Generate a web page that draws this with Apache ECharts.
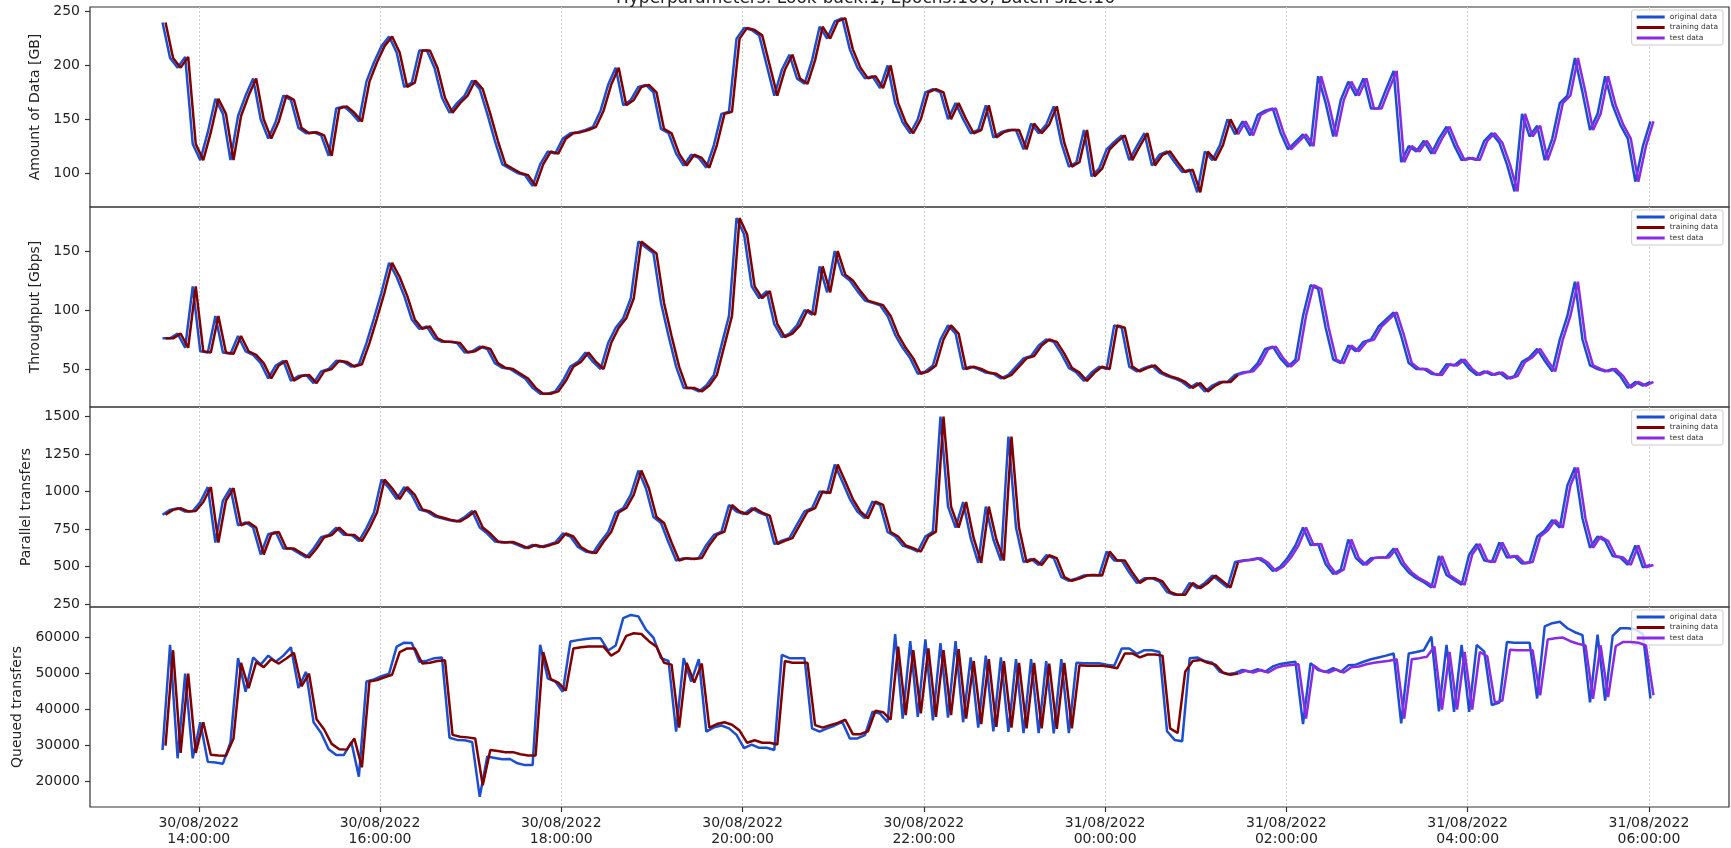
<!DOCTYPE html>
<html>
<head>
<meta charset="utf-8">
<title>Hyperparameters: Look-back:1, Epochs:100, Batch size:16</title>
<script src="https://cdn.jsdelivr.net/npm/echarts@6/dist/echarts.min.js"></script>
<style>
  html, body { margin: 0; padding: 0; background: #fff; }
  #chart { width: 1731px; height: 848px; }
</style>
</head>
<body>
<div id="chart"></div>
<script>
// samples every 5 min starting 30/08/2022 13:36
const startTime = new Date(2022, 7, 30, 13, 36).getTime()
const stepMs = 5 * 60 * 1000
// one-step-ahead predictions sit a little after the point they follow
const predLagMs = 2 * 60 * 1000
// first sample of the test split (~01:26)
const testStart = 142

const xMin = '2022-08-30T12:48'
const xMax = '2022-08-31T06:53'
const xTicks = [
  '2022-08-30T14:00', '2022-08-30T16:00', '2022-08-30T18:00', '2022-08-30T20:00',
  '2022-08-30T22:00', '2022-08-31T00:00', '2022-08-31T02:00', '2022-08-31T04:00',
  '2022-08-31T06:00',
]

const amountTicks = [100, 150, 200, 250]
const throughputTicks = [50, 100, 150]
const parallelTicks = [250, 500, 750, 1000, 1250, 1500]
const queuedTicks = [20000, 30000, 40000, 50000, 60000]

// Amount of Data [GB]
const amountData = [
  240, 207, 198, 208, 127, 112, 138, 169, 155, 112,
  153, 172, 188, 150, 132, 148, 172, 168, 142, 137,
  138, 135, 116, 160, 162, 156, 148, 185, 203, 218,
  227, 212, 180, 184, 214, 214, 198, 170, 156, 165,
  172, 186, 178, 155, 130, 108, 104, 100, 98, 88,
  108, 120, 118, 132, 137, 138, 140, 143, 158, 182,
  198, 163, 168, 180, 182, 175, 141, 137, 118, 107,
  117, 114, 105, 126, 155, 157, 225, 235, 233, 228,
  200, 172, 196, 210, 188, 183, 205, 236, 225, 241,
  244, 215, 198, 188, 190, 179, 200, 165, 147, 137,
  150, 175, 178, 175, 150, 165, 150, 137, 140, 163,
  133, 138, 140, 140, 122, 146, 137, 145, 162, 128,
  106, 110, 140, 97, 104, 122, 129, 135, 112, 125,
  137, 107, 117, 120, 110, 101, 103, 82, 120, 112,
  126, 150, 136, 148, 135, 154, 158, 160, 138, 122,
  129, 136, 125, 190, 165, 134, 168, 185, 172, 188,
  160, 160, 178, 195, 110, 125, 120, 130, 118, 132,
  143, 126, 112, 114, 112, 130, 137, 128, 108, 83,
  155, 134, 144, 112, 132, 165, 172, 207, 175, 140,
  155, 190, 163, 145, 132, 92, 125, 148,
]

// Throughput [Gbps]
const throughputData = [
  76, 76, 80, 68, 120, 65, 64, 95, 64, 63,
  78, 65, 62, 55, 42, 53, 57, 40, 44, 45,
  38, 48, 50, 57, 56, 52, 54, 72, 93, 115,
  140, 128, 112, 92, 84, 86, 76, 73, 73, 72,
  64, 65, 69, 67, 55, 51, 50, 46, 42, 34,
  29, 29, 31, 40, 52, 56, 64, 56, 50, 72,
  85, 93, 110, 158, 153, 148, 106, 78, 52, 34,
  34, 31, 36, 45, 70, 95, 178, 164, 120, 110,
  116, 88, 77, 80, 87, 100, 96, 137, 115, 150,
  130, 125, 116, 108, 106, 104, 95, 79, 68, 59,
  46, 48, 53, 75, 87, 80, 50, 52, 50, 47,
  46, 42, 45, 52, 59, 61, 70, 75, 73, 63,
  51, 47, 40, 47, 52, 50, 87, 85, 52, 48,
  51, 53, 47, 44, 42, 39, 34, 38, 31, 36,
  39, 39, 45, 47, 48, 55, 67, 69, 59, 52,
  58, 95, 121, 118, 85, 58, 55, 70, 65, 73,
  75, 86, 92, 98, 78, 55, 50, 50, 46, 45,
  54, 53, 58, 50, 45, 48, 45, 47, 42, 44,
  56, 60, 67, 57, 48, 75, 95, 124, 75, 53,
  50, 48, 50, 44, 34, 39, 36, 39,
]

// Parallel transfers
const parallelData = [
  845, 878, 889, 867, 870, 930, 1030, 660, 940, 1022,
  775, 795, 760, 580, 715, 730, 620, 620, 590, 560,
  620, 695, 710, 760, 712, 711, 670, 756, 860, 1080,
  1022, 950, 1030, 978, 880, 867, 835, 822, 808, 800,
  830, 870, 760, 720, 667, 660, 664, 644, 622, 644,
  630, 644, 660, 720, 700, 630, 600, 590, 665, 730,
  860, 890, 980, 1140, 1022, 830, 790, 660, 540, 556,
  550, 556, 644, 711, 733, 910, 867, 850, 889, 860,
  840, 650, 672, 689, 780, 867, 889, 1000, 990, 1180,
  1067, 950, 867, 822, 933, 911, 730, 700, 640, 622,
  600, 700, 733, 1500, 900, 760, 930, 689, 525, 900,
  680, 540, 1367, 760, 530, 550, 510, 575, 556, 430,
  405, 420, 440, 444, 440, 600, 540, 540, 460, 390,
  422, 422, 400, 330, 311, 311, 390, 356, 390, 440,
  400, 360, 530, 540, 545, 556, 525, 470, 500, 560,
  640, 760, 644, 650, 515, 450, 480, 680, 556, 511,
  556, 560, 560, 620, 520, 460, 422, 395, 360, 570,
  444, 410, 378, 580, 650, 540, 530, 660, 560, 570,
  520, 530, 700, 740, 810, 760, 1040, 1160, 820, 625,
  700, 670, 570, 560, 511, 640, 495, 510,
]

// Queued transfers (observed)
const queuedData = [
  28800, 58000, 26500, 50000, 26500, 36500, 25500, 25300, 25000, 31000,
  54300, 45000, 54500, 52500, 55000, 53300, 55000, 57300, 46000, 50500,
  36500, 33500, 29000, 27400, 27400, 31000, 21400, 47800, 48400, 49300,
  50000, 57500, 58600, 58500, 53300, 53600, 54300, 54500, 32200, 31600,
  31500, 31000, 15800, 27000, 26600, 26200, 26300, 25100, 24600, 24600,
  58000, 48700, 47800, 45000, 58900, 59300, 59600, 59800, 59800, 56400,
  57800, 65400, 66300, 65900, 62200, 60000, 54300, 53500, 33900, 54300,
  47800, 54000, 33900, 35100, 35600, 34800, 33000, 29300, 30300, 29400,
  29400, 28800, 55200, 54300, 54300, 54300, 34800, 33900, 34800, 35600,
  36600, 32000, 32000, 32900, 39400, 38900, 36500, 61000, 37500, 59000,
  38000, 59500, 37000, 58500, 37800, 59000, 36500, 54500, 35000, 55000,
  34000, 54500, 33800, 54000, 33500, 54000, 33500, 53500, 33400, 54000,
  33500, 53000, 52900, 52900, 52900, 52500, 52200, 57000, 57000, 55500,
  56500, 56500, 56000, 34000, 31600, 31200, 54300, 54500, 53500, 53000,
  50500, 49800, 50200, 51000, 50500, 51200, 50500, 52000, 52700, 53000,
  53300, 36000, 52900, 51000, 50500, 51500, 50500, 52300, 52500, 53300,
  54000, 54500, 55000, 55600, 36200, 55600, 56000, 56500, 60300, 39500,
  58000, 39400, 58000, 39400, 58000, 56100, 41300, 42000, 58800, 58600,
  58600, 58600, 43100, 63100, 64000, 64400, 62600, 61500, 60700, 42000,
  60800, 42500, 60500, 62600, 62600, 62300, 61000, 43100,
]

// Queued transfers (model output, flatter than the observation)
const queuedPred = [
  30000, 56500, 28000, 50000, 28000, 36500, 27500, 27300, 27200, 32000,
  53000, 46000, 53200, 51800, 54000, 52800, 54200, 55800, 46500, 50000,
  37300, 34500, 30500, 29000, 28900, 32000, 24000, 47800, 48200, 49000,
  49700, 56000, 57000, 57000, 52800, 53000, 53500, 53700, 33000, 32500,
  32300, 32000, 19000, 28800, 28500, 28200, 28200, 27600, 27300, 27300,
  56000, 48500, 47500, 45300, 57000, 57300, 57500, 57500, 57500, 55000,
  56300, 60500, 61200, 61000, 59000, 57500, 53000, 52500, 35000, 53000,
  47500, 52800, 35000, 36000, 36500, 35800, 34200, 30800, 31500, 30800,
  30800, 30300, 53500, 53000, 53000, 53000, 35700, 35000, 35700, 36300,
  37200, 33200, 33200, 34000, 39700, 39300, 37200, 57500, 38500, 56500,
  39000, 57000, 38000, 56500, 38500, 56800, 37500, 53500, 36000, 54000,
  35200, 53500, 35000, 53000, 34800, 53000, 34800, 52800, 34700, 53000,
  34800, 52300, 52200, 52200, 52200, 51900, 51500, 55600, 55600, 54500,
  55300, 55300, 55000, 34800, 33500, 50500, 53500, 53800, 53000, 52500,
  50300, 49700, 50000, 50800, 50300, 51000, 50300, 51600, 52200, 52400,
  52600, 37500, 52300, 50800, 50300, 51200, 50300, 51800, 52000, 52600,
  53000, 53300, 53600, 54000, 37500, 54000, 54300, 54700, 57500, 40000,
  56000, 40000, 56000, 40000, 56000, 54800, 42000, 42500, 56600, 56500,
  56500, 56500, 44000, 59500, 59800, 60000, 59000, 58300, 57800, 43000,
  57800, 43500, 57600, 58800, 58800, 58600, 57800, 44000,
]

// for the first three panels the prediction traces the observation one step late
const panels = [
  { label: 'Amount of Data [GB]', values: amountData, pred: amountData, ticks: amountTicks, min: 68.4, max: 254.4, nameGap: 43 },
  { label: 'Throughput [Gbps]', values: throughputData, pred: throughputData, ticks: throughputTicks, min: 17.8, max: 187.3, nameGap: 44 },
  { label: 'Parallel transfers', values: parallelData, pred: parallelData, ticks: parallelTicks, min: 230, max: 1564, nameGap: 53 },
  { label: 'Queued transfers', values: queuedData, pred: queuedPred, ticks: queuedTicks, min: 12970, max: 68500, nameGap: 62 },
]

const colors = { original: '#1b4fd0', training: '#800000', test: '#8a2be2' }
const font = 'DejaVu Sans'
const gridTop = 7
const gridHeight = 200

const pad = (n) => String(n).padStart(2, '0')
const formatTick = (v) => {
  const d = new Date(v)
  return pad(d.getDate()) + '/' + pad(d.getMonth() + 1) + '/' + d.getFullYear() +
    '\n' + pad(d.getHours()) + ':' + pad(d.getMinutes()) + ':' + pad(d.getSeconds())
}

const tickTimes = xTicks.map((s) => new Date(s).getTime())
const timeAt = (i) => startTime + i * stepMs

const grids = []
const xAxes = []
const yAxes = []
const legends = []
const series = []

panels.forEach((p, k) => {
  const last = k === panels.length - 1
  grids.push({
    left: 90, right: 2, top: gridTop + k * gridHeight, height: gridHeight,
    show: true, borderColor: '#333', borderWidth: 1.2, backgroundColor: 'transparent',
  })
  // timestamps on a plain value axis, ticks placed on the even hours
  xAxes.push({
    type: 'value', gridIndex: k, min: new Date(xMin).getTime(), max: new Date(xMax).getTime(),
    axisLine: { show: false },
    axisTick: { show: last, customValues: tickTimes, length: 5, lineStyle: { color: '#333', width: 1.2 } },
    axisLabel: {
      show: last, customValues: tickTimes, formatter: formatTick,
      fontSize: 14, lineHeight: 16, color: '#222', margin: 8, fontFamily: font,
    },
    splitLine: { show: true, lineStyle: { color: '#cccccc', width: 1, type: [2, 2] } },
  })
  yAxes.push({
    type: 'value', gridIndex: k, min: p.min, max: p.max,
    name: p.label, nameLocation: 'middle', nameGap: p.nameGap,
    nameTextStyle: { fontSize: 14, color: '#222', fontFamily: font },
    axisLine: { show: false },
    axisTick: { show: true, customValues: p.ticks, length: 5, lineStyle: { color: '#333', width: 1.2 } },
    axisLabel: {
      customValues: p.ticks, formatter: (v) => String(v),
      fontSize: 14, color: '#222', margin: 10, fontFamily: font,
    },
    splitLine: { show: false },
  })
  legends.push({
    orient: 'vertical', right: 8, top: gridTop + k * gridHeight + 3,
    data: ['original data', 'training data', 'test data'],
    icon: 'rect', itemWidth: 28, itemHeight: 3, itemGap: 2.5,
    textStyle: { fontSize: 7.5, lineHeight: 7, color: '#333', fontFamily: font },
    backgroundColor: 'rgba(255,255,255,0.8)', borderColor: '#cccccc', borderWidth: 1,
    borderRadius: 2, padding: [3, 5], selectedMode: false,
  })

  const line = (name, data, z) => ({
    name, type: 'line', xAxisIndex: k, yAxisIndex: k, data, z,
    showSymbol: false, symbol: 'none', color: colors[name.split(' ')[0]],
    lineStyle: { width: 2.5, color: colors[name.split(' ')[0]] },
    emphasis: { disabled: true }, animation: false,
  })
  series.push(line('original data', p.values.map((v, i) => [timeAt(i), v]), 2))
  const train = []
  const test = []
  p.pred.forEach((v, i) => {
    const pt = [timeAt(i) + predLagMs, v]
    if (i <= testStart) train.push(pt)
    if (i >= testStart) test.push(pt)
  })
  series.push(line('training data', train, 3))
  series.push(line('test data', test, 4))
})

const chart = echarts.init(document.getElementById('chart'), null, { renderer: 'canvas' })
chart.setOption({
  animation: false,
  backgroundColor: '#fff',
  textStyle: { fontFamily: font },
  graphic: [{
    type: 'text', left: 'center', top: -10,
    style: { text: 'Hyperparameters: Look-back:1, Epochs:100, Batch size:16', font: '17px "DejaVu Sans"', fill: '#222' },
  }],
  grid: grids,
  xAxis: xAxes,
  yAxis: yAxes,
  legend: legends,
  series,
})
</script>
</body>
</html>
